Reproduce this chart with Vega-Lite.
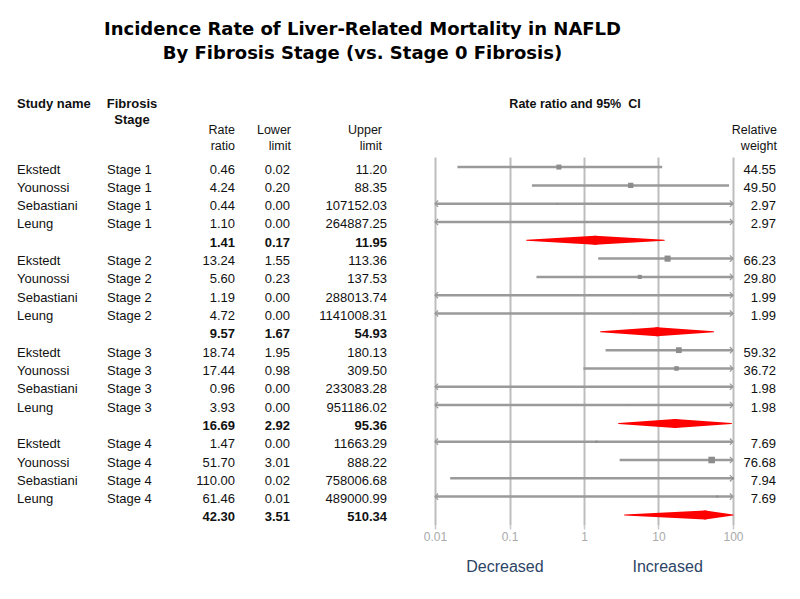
{
  "$schema": "https://vega.github.io/schema/vega-lite/v6.json",
  "width": 800,
  "height": 368,
  "autosize": {"type": "none"},
  "padding": {"left": 0, "right": 0, "top": 157, "bottom": 74},
  "background": "white",
  "config": {
    "view": {"stroke": null},
    "axisX": {
      "grid": true, "gridColor": "#bdbdbd", "gridWidth": 2,
      "domain": false, "ticks": true, "tickColor": "#c8c8c8", "tickSize": 4, "tickWidth": 1.5,
      "labelColor": "#aaaaaa", "labelFontSize": 12, "labelFont": "Liberation Sans", "labelPadding": 2, "labelFlush": false,
      "titleColor": "#2c4466", "titleFont": "Liberation Sans", "titleFontSize": 16, "titleFontWeight": "normal", "titlePadding": 16
    }
  },
  "title": {
    "text": ["Incidence Rate of Liver-Related Mortality in NAFLD", "By Fibrosis Stage (vs. Stage 0 Fibrosis)"],
    "font": "DejaVu Sans",
    "fontSize": 18,
    "fontWeight": "bold",
    "color": "#000000",
    "anchor": "middle",
    "frame": "group",
    "dx": -37.5,
    "offset": 35,
    "lineHeight": 24
  },
  "datasets": {
    "rows": [
      {"idx": 0, "study": "Ekstedt", "stage": "Stage 1", "rr": 0.46, "lo": 0.02, "hi": 11.20, "weight": 44.55, "summary": false},
      {"idx": 1, "study": "Younossi", "stage": "Stage 1", "rr": 4.24, "lo": 0.20, "hi": 88.35, "weight": 49.50, "summary": false},
      {"idx": 2, "study": "Sebastiani", "stage": "Stage 1", "rr": 0.44, "lo": 0.0000018, "hi": 107152.03, "weight": 2.97, "summary": false},
      {"idx": 3, "study": "Leung", "stage": "Stage 1", "rr": 1.10, "lo": 0.0000046, "hi": 264887.25, "weight": 2.97, "summary": false},
      {"idx": 4, "study": "", "stage": "", "rr": 1.41, "lo": 0.17, "hi": 11.95, "weight": null, "summary": true},
      {"idx": 5, "study": "Ekstedt", "stage": "Stage 2", "rr": 13.24, "lo": 1.55, "hi": 113.36, "weight": 66.23, "summary": false},
      {"idx": 6, "study": "Younossi", "stage": "Stage 2", "rr": 5.60, "lo": 0.23, "hi": 137.53, "weight": 29.80, "summary": false},
      {"idx": 7, "study": "Sebastiani", "stage": "Stage 2", "rr": 1.19, "lo": 0.0000049, "hi": 288013.74, "weight": 1.99, "summary": false},
      {"idx": 8, "study": "Leung", "stage": "Stage 2", "rr": 4.72, "lo": 0.0000195, "hi": 1141008.31, "weight": 1.99, "summary": false},
      {"idx": 9, "study": "", "stage": "", "rr": 9.57, "lo": 1.67, "hi": 54.93, "weight": null, "summary": true},
      {"idx": 10, "study": "Ekstedt", "stage": "Stage 3", "rr": 18.74, "lo": 1.95, "hi": 180.13, "weight": 59.32, "summary": false},
      {"idx": 11, "study": "Younossi", "stage": "Stage 3", "rr": 17.44, "lo": 0.98, "hi": 309.50, "weight": 36.72, "summary": false},
      {"idx": 12, "study": "Sebastiani", "stage": "Stage 3", "rr": 0.96, "lo": 0.000004, "hi": 233083.28, "weight": 1.98, "summary": false},
      {"idx": 13, "study": "Leung", "stage": "Stage 3", "rr": 3.93, "lo": 0.0000162, "hi": 951186.02, "weight": 1.98, "summary": false},
      {"idx": 14, "study": "", "stage": "", "rr": 16.69, "lo": 2.92, "hi": 95.36, "weight": null, "summary": true},
      {"idx": 15, "study": "Ekstedt", "stage": "Stage 4", "rr": 1.47, "lo": 0.000185, "hi": 11663.29, "weight": 7.69, "summary": false},
      {"idx": 16, "study": "Younossi", "stage": "Stage 4", "rr": 51.70, "lo": 3.01, "hi": 888.22, "weight": 76.68, "summary": false},
      {"idx": 17, "study": "Sebastiani", "stage": "Stage 4", "rr": 110.00, "lo": 0.016, "hi": 758006.68, "weight": 7.94, "summary": false},
      {"idx": 18, "study": "Leung", "stage": "Stage 4", "rr": 61.46, "lo": 0.0077, "hi": 489000.99, "weight": 7.69, "summary": false},
      {"idx": 19, "study": "", "stage": "", "rr": 42.30, "lo": 3.51, "hi": 510.34, "weight": null, "summary": true}
    ]
  },
  "layer": [
    {
      "data": {"name": "rows"},
      "layer": [
        {
          "transform": [{"filter": "!datum.summary"}],
          "mark": {"type": "rule", "color": "#9a9a9a", "strokeWidth": 2.5},
          "encoding": {
            "x": {
              "field": "lo", "type": "quantitative",
              "scale": {"type": "log", "domain": [0.01, 100], "range": [435, 733], "clamp": true, "nice": false},
              "axis": {"values": [0.01, 0.1, 1, 10, 100], "format": "~g", "title": "Decreased\u00a0\u00a0\u00a0\u00a0\u00a0\u00a0\u00a0\u00a0\u00a0\u00a0\u00a0\u00a0\u00a0\u00a0\u00a0\u00a0\u00a0\u00a0\u00a0\u00a0Increased"}
            },
            "x2": {"field": "hi"},
            "y": {"field": "idx", "type": "quantitative", "scale": {"domain": [-0.55, 19.55], "range": [0, 368], "nice": false, "zero": false}, "axis": null}
          }
        },
        {
          "transform": [{"filter": "!datum.summary && datum.lo < 0.01"}],
          "mark": {"type": "point", "shape": "M 1 -1 L 0 0 L 1 1", "filled": false, "color": "#9a9a9a", "strokeWidth": 1.2, "size": 40, "opacity": 1},
          "encoding": {
            "x": {"field": "lo", "type": "quantitative", "axis": {"values": [0.01, 0.1, 1, 10, 100], "format": "~g", "title": "Decreased\u00a0\u00a0\u00a0\u00a0\u00a0\u00a0\u00a0\u00a0\u00a0\u00a0\u00a0\u00a0\u00a0\u00a0\u00a0\u00a0\u00a0\u00a0\u00a0\u00a0Increased"}},
            "y": {"field": "idx", "type": "quantitative", "axis": null}
          }
        },
        {
          "transform": [{"filter": "!datum.summary && datum.hi > 100"}],
          "mark": {"type": "point", "shape": "M -1 -1 L 0 0 L -1 1", "filled": false, "color": "#9a9a9a", "strokeWidth": 1.2, "size": 40, "opacity": 1},
          "encoding": {
            "x": {"field": "hi", "type": "quantitative", "axis": {"values": [0.01, 0.1, 1, 10, 100], "format": "~g", "title": "Decreased\u00a0\u00a0\u00a0\u00a0\u00a0\u00a0\u00a0\u00a0\u00a0\u00a0\u00a0\u00a0\u00a0\u00a0\u00a0\u00a0\u00a0\u00a0\u00a0\u00a0Increased"}},
            "y": {"field": "idx", "type": "quantitative", "axis": null}
          }
        },
        {
          "transform": [{"filter": "!datum.summary"}],
          "mark": {"type": "point", "shape": "square", "filled": true, "color": "#8c8c8c", "opacity": 1},
          "encoding": {
            "x": {"field": "rr", "type": "quantitative", "axis": {"values": [0.01, 0.1, 1, 10, 100], "format": "~g", "title": "Decreased\u00a0\u00a0\u00a0\u00a0\u00a0\u00a0\u00a0\u00a0\u00a0\u00a0\u00a0\u00a0\u00a0\u00a0\u00a0\u00a0\u00a0\u00a0\u00a0\u00a0Increased"}},
            "y": {"field": "idx", "type": "quantitative", "axis": null},
            "size": {"field": "weight", "type": "quantitative", "scale": {"type": "linear", "domain": [0, 80], "range": [0, 45]}, "legend": null}
          }
        },
        {
          "transform": [{"filter": "datum.summary"}, {"fold": ["lo", "rr"], "as": ["pt", "val"]}],
          "mark": {"type": "trail", "color": "#ff0000"},
          "encoding": {
            "x": {"field": "val", "type": "quantitative", "axis": {"values": [0.01, 0.1, 1, 10, 100], "format": "~g", "title": "Decreased\u00a0\u00a0\u00a0\u00a0\u00a0\u00a0\u00a0\u00a0\u00a0\u00a0\u00a0\u00a0\u00a0\u00a0\u00a0\u00a0\u00a0\u00a0\u00a0\u00a0Increased"}},
            "y": {"field": "idx", "type": "quantitative", "axis": null},
            "detail": {"field": "idx"},
            "size": {"field": "pt", "type": "nominal", "scale": {"type": "point", "domain": ["lo", "rr"], "range": [0, 9], "padding": 0}, "legend": null}
          }
        },
        {
          "transform": [{"filter": "datum.summary"}, {"fold": ["rr", "hi"], "as": ["pt", "val"]}],
          "mark": {"type": "trail", "color": "#ff0000"},
          "encoding": {
            "x": {"field": "val", "type": "quantitative", "axis": {"values": [0.01, 0.1, 1, 10, 100], "format": "~g", "title": "Decreased\u00a0\u00a0\u00a0\u00a0\u00a0\u00a0\u00a0\u00a0\u00a0\u00a0\u00a0\u00a0\u00a0\u00a0\u00a0\u00a0\u00a0\u00a0\u00a0\u00a0Increased"}},
            "y": {"field": "idx", "type": "quantitative", "axis": null},
            "detail": {"field": "idx"},
            "size": {"field": "pt", "type": "nominal", "scale": {"type": "point", "domain": ["hi", "rr"], "range": [0, 9], "padding": 0}, "legend": null}
          }
        }
      ],
      "resolve": {"scale": {"size": "independent"}}
    },
    {
      "data": {"name": "rows"},
      "transform": [{"filter": "!datum.summary"}],
      "mark": {"type": "text", "align": "left", "baseline": "middle", "font": "Liberation Sans", "fontSize": 13, "color": "#111111"},
      "encoding": {
        "x": {"datum": "study", "scale": {"type": "point", "domain": ["study"], "range": [17, 17]}, "axis": null},
        "y": {"field": "idx", "type": "quantitative", "scale": {"domain": [-0.55, 19.55], "range": [2.5, 370.5], "nice": false, "zero": false}, "axis": null},
        "text": {"field": "study"}
      }
    },
    {
      "data": {"name": "rows"},
      "transform": [{"filter": "!datum.summary"}],
      "mark": {"type": "text", "align": "left", "baseline": "middle", "font": "Liberation Sans", "fontSize": 13, "color": "#111111"},
      "encoding": {
        "x": {"datum": "stage", "scale": {"type": "point", "domain": ["stage"], "range": [107, 107]}, "axis": null},
        "y": {"field": "idx", "type": "quantitative", "scale": {"domain": [-0.55, 19.55], "range": [2.5, 370.5], "nice": false, "zero": false}, "axis": null},
        "text": {"field": "stage"}
      }
    },
    {
      "data": {"name": "rows"},
      "mark": {"type": "text", "align": "right", "baseline": "middle", "font": "Liberation Sans", "fontSize": 13, "color": "#111111", "fontWeight": {"expr": "datum.summary ? 'bold' : 'normal'"}},
      "encoding": {
        "x": {"datum": "rr", "scale": {"type": "point", "domain": ["rr"], "range": [235, 235]}, "axis": null},
        "y": {"field": "idx", "type": "quantitative", "scale": {"domain": [-0.55, 19.55], "range": [2.5, 370.5], "nice": false, "zero": false}, "axis": null},
        "text": {"field": "rr", "type": "quantitative", "format": ".2f"}
      }
    },
    {
      "data": {"name": "rows"},
      "mark": {"type": "text", "align": "right", "baseline": "middle", "font": "Liberation Sans", "fontSize": 13, "color": "#111111", "fontWeight": {"expr": "datum.summary ? 'bold' : 'normal'"}},
      "encoding": {
        "x": {"datum": "lo", "scale": {"type": "point", "domain": ["lo"], "range": [290, 290]}, "axis": null},
        "y": {"field": "idx", "type": "quantitative", "scale": {"domain": [-0.55, 19.55], "range": [2.5, 370.5], "nice": false, "zero": false}, "axis": null},
        "text": {"field": "lo", "type": "quantitative", "format": ".2f"}
      }
    },
    {
      "data": {"name": "rows"},
      "mark": {"type": "text", "align": "right", "baseline": "middle", "font": "Liberation Sans", "fontSize": 13, "color": "#111111", "fontWeight": {"expr": "datum.summary ? 'bold' : 'normal'"}},
      "encoding": {
        "x": {"datum": "hi", "scale": {"type": "point", "domain": ["hi"], "range": [387, 387]}, "axis": null},
        "y": {"field": "idx", "type": "quantitative", "scale": {"domain": [-0.55, 19.55], "range": [2.5, 370.5], "nice": false, "zero": false}, "axis": null},
        "text": {"field": "hi", "type": "quantitative", "format": ".2f"}
      }
    },
    {
      "data": {"name": "rows"},
      "transform": [{"filter": "!datum.summary"}],
      "mark": {"type": "text", "align": "right", "baseline": "middle", "font": "Liberation Sans", "fontSize": 13, "color": "#111111"},
      "encoding": {
        "x": {"datum": "weight", "scale": {"type": "point", "domain": ["weight"], "range": [776, 776]}, "axis": null},
        "y": {"field": "idx", "type": "quantitative", "scale": {"domain": [-0.55, 19.55], "range": [2.5, 370.5], "nice": false, "zero": false}, "axis": null},
        "text": {"field": "weight", "type": "quantitative", "format": ".2f"}
      }
    },
    {
      "data": {"values": [{"label": "Study name"}]},
      "mark": {"type": "text", "align": "left", "baseline": "top", "font": "Liberation Sans", "fontSize": 13, "fontWeight": "bold", "color": "#111111"},
      "encoding": {
        "x": {"datum": "study", "scale": {"type": "point", "domain": ["study"], "range": [17, 17]}, "axis": null},
        "y": {"datum": "top", "scale": {"type": "point", "domain": ["top", "sub"], "range": [-59.3, -33.3], "padding": 0}, "axis": null},
        "text": {"field": "label"}
      }
    },
    {
      "data": {"values": [{"label": "Fibrosis\nStage"}]},
      "mark": {"type": "text", "align": "center", "baseline": "top", "lineBreak": "\n", "lineHeight": 16, "font": "Liberation Sans", "fontSize": 13, "fontWeight": "bold", "color": "#111111"},
      "encoding": {
        "x": {"datum": "stage", "scale": {"type": "point", "domain": ["stage"], "range": [132, 132]}, "axis": null},
        "y": {"datum": "top", "scale": {"type": "point", "domain": ["top", "sub"], "range": [-59.3, -33.3], "padding": 0}, "axis": null},
        "text": {"field": "label"}
      }
    },
    {
      "data": {"values": [{"label": "Rate ratio and 95%\u00a0 CI"}]},
      "mark": {"type": "text", "align": "center", "baseline": "top", "font": "Liberation Sans", "fontSize": 12.5, "fontWeight": "bold", "color": "#111111"},
      "encoding": {
        "x": {"datum": "ci", "scale": {"type": "point", "domain": ["ci"], "range": [575, 575]}, "axis": null},
        "y": {"datum": "top", "scale": {"type": "point", "domain": ["top", "sub"], "range": [-59.3, -33.3], "padding": 0}, "axis": null},
        "text": {"field": "label"}
      }
    },
    {
      "data": {"values": [{"label": "Rate\nratio"}]},
      "mark": {"type": "text", "align": "right", "baseline": "top", "lineBreak": "\n", "lineHeight": 16, "font": "Liberation Sans", "fontSize": 12.5, "color": "#111111"},
      "encoding": {
        "x": {"datum": "rr", "scale": {"type": "point", "domain": ["rr"], "range": [235, 235]}, "axis": null},
        "y": {"datum": "sub", "scale": {"type": "point", "domain": ["top", "sub"], "range": [-59.3, -33.3], "padding": 0}, "axis": null},
        "text": {"field": "label"}
      }
    },
    {
      "data": {"values": [{"label": "Lower\nlimit"}]},
      "mark": {"type": "text", "align": "right", "baseline": "top", "lineBreak": "\n", "lineHeight": 16, "font": "Liberation Sans", "fontSize": 12.5, "color": "#111111"},
      "encoding": {
        "x": {"datum": "lo", "scale": {"type": "point", "domain": ["lo"], "range": [291, 291]}, "axis": null},
        "y": {"datum": "sub", "scale": {"type": "point", "domain": ["top", "sub"], "range": [-59.3, -33.3], "padding": 0}, "axis": null},
        "text": {"field": "label"}
      }
    },
    {
      "data": {"values": [{"label": "Upper\nlimit"}]},
      "mark": {"type": "text", "align": "right", "baseline": "top", "lineBreak": "\n", "lineHeight": 16, "font": "Liberation Sans", "fontSize": 12.5, "color": "#111111"},
      "encoding": {
        "x": {"datum": "hi", "scale": {"type": "point", "domain": ["hi"], "range": [382, 382]}, "axis": null},
        "y": {"datum": "sub", "scale": {"type": "point", "domain": ["top", "sub"], "range": [-59.3, -33.3], "padding": 0}, "axis": null},
        "text": {"field": "label"}
      }
    },
    {
      "data": {"values": [{"label": "Relative\nweight"}]},
      "mark": {"type": "text", "align": "right", "baseline": "top", "lineBreak": "\n", "lineHeight": 16, "font": "Liberation Sans", "fontSize": 12.5, "color": "#111111"},
      "encoding": {
        "x": {"datum": "weight", "scale": {"type": "point", "domain": ["weight"], "range": [777, 777]}, "axis": null},
        "y": {"datum": "sub", "scale": {"type": "point", "domain": ["top", "sub"], "range": [-59.3, -33.3], "padding": 0}, "axis": null},
        "text": {"field": "label"}
      }
    }
  ],
  "resolve": {
    "scale": {"x": "independent", "y": "independent", "size": "independent"},
    "axis": {"x": "independent", "y": "independent"}
  }
}
